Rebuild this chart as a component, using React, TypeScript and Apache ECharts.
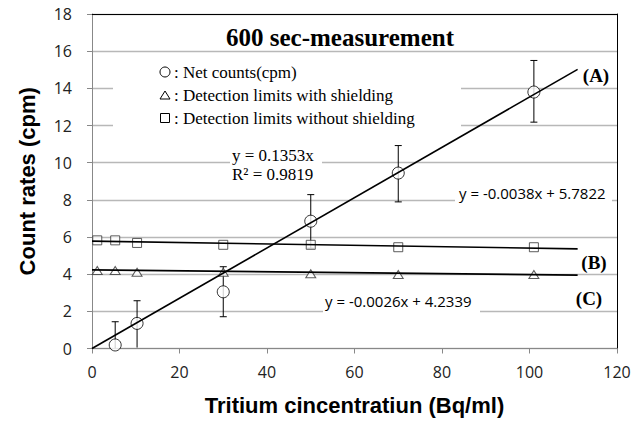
import React, { useEffect, useRef } from "react";
import * as echarts from "echarts";

// Net counts (cpm) with error bars
const netX = [5.3, 10.3, 30, 50, 70, 101];
const netY = [0.19, 1.35, 3.05, 6.85, 9.44, 13.8];
const netLow = [-1.06, 0.05, 1.71, 5.4, 7.89, 12.18];
const netHigh = [1.44, 2.57, 4.4, 8.28, 10.92, 15.5];

// Detection limits
const limitX = [1.2, 5.3, 10.3, 30, 50, 70, 101];
const withoutShielding = [5.82, 5.82, 5.68, 5.58, 5.58, 5.45, 5.45];
const withShielding = [4.2, 4.2, 4.1, 4.1, 4.02, 3.98, 3.98];

// Trend lines (end points)
const trendX = [0, 111];
const trendA = [0, 15.02];
const trendB = [5.78, 5.36];
const trendC = [4.23, 3.95];

const title = "600 sec-measurement";
const legendItems = [
  ": Net counts(cpm)",
  ": Detection limits with shielding",
  ": Detection limits without shielding",
];
const eqA = ["y = 0.1353x", "R\u00b2 = 0.9819"];
const eqB = "y = -0.0038x + 5.7822";
const eqC = "y = -0.0026x + 4.2339";
const xName = "Tritium cincentratiun (Bq/ml)";
const yName = "Count rates (cpm)";

const SERIF = "'Liberation Serif', 'Times New Roman', serif";
const SANS = "'Open Sans', 'Liberation Sans', sans-serif";
const ARIAL = "'Liberation Sans', Arial, sans-serif";

export default function App() {
  const ref = useRef<HTMLDivElement>(null);
  useEffect(() => {
    if (!ref.current) return;
    const chart = echarts.init(ref.current, null, { renderer: "svg" });
    const pair = (xs: number[], ys: number[]) => xs.map((x, i) => [x, ys[i]]);

    const option: any = {
      animation: false,
      backgroundColor: "#fff",
      grid: { left: 92, right: 26, top: 14, bottom: 74.5, containLabel: false },
      xAxis: [
        {
          type: "value",
          min: 0,
          max: 120,
          interval: 20,
          name: xName,
          nameLocation: "middle",
          nameGap: 46,
          nameTextStyle: { fontFamily: ARIAL, fontWeight: "bold", fontSize: 22, color: "#000" },
          axisLine: { show: true, lineStyle: { color: "#888", width: 1 } },
          axisTick: { show: true, inside: false, length: 5, lineStyle: { color: "#888" } },
          axisLabel: { fontFamily: SANS, fontSize: 16, color: "#222", margin: 15 },
          splitLine: { show: false },
        },
        {
          type: "value",
          position: "top",
          min: 0,
          max: 120,
          axisLine: { show: true, onZero: false, lineStyle: { color: "#000", width: 1 } },
          axisTick: { show: false },
          axisLabel: { show: false },
          splitLine: { show: false },
        },
      ],
      yAxis: [
        {
          type: "value",
          min: 0,
          max: 18,
          interval: 2,
          name: yName,
          nameLocation: "middle",
          nameGap: 54,
          nameTextStyle: { fontFamily: ARIAL, fontWeight: "bold", fontSize: 22, color: "#000" },
          axisLine: { show: true, lineStyle: { color: "#888", width: 1 } },
          axisTick: { show: true, inside: false, length: 5, lineStyle: { color: "#888" } },
          axisLabel: { fontFamily: SANS, fontSize: 16, color: "#222", margin: 20 },
          splitLine: { show: true, lineStyle: { color: "#b8b8b8", width: 1.3 } },
        },
        {
          type: "value",
          position: "right",
          min: 0,
          max: 18,
          axisLine: { show: true, onZero: false, lineStyle: { color: "#000", width: 1 } },
          axisTick: { show: false },
          axisLabel: { show: false },
          splitLine: { show: false },
        },
      ],
      series: [
        {
          type: "custom",
          name: "errors",
          z: 3,
          clip: true,
          data: netX.map((x, i) => [x, netLow[i], netHigh[i]]),
          renderItem: (params: any, api: any) => {
            const x = api.value(0);
            const lo = api.coord([x, api.value(1)]);
            const hi = api.coord([x, api.value(2)]);
            const cs = params.coordSys;
            const bottom = cs.y + cs.height;
            const loY = Math.min(lo[1], bottom);
            const cap = 3.5;
            const children: any[] = [
              { type: "line", shape: { x1: hi[0], y1: hi[1], x2: lo[0], y2: loY }, style: { stroke: "#000", lineWidth: 1 } },
              { type: "line", shape: { x1: hi[0] - cap, y1: hi[1], x2: hi[0] + cap, y2: hi[1] }, style: { stroke: "#000", lineWidth: 1 } },
            ];
            if (lo[1] < bottom - 1) {
              children.push({ type: "line", shape: { x1: lo[0] - cap, y1: lo[1], x2: lo[0] + cap, y2: lo[1] }, style: { stroke: "#000", lineWidth: 1 } });
            }
            return { type: "group", children };
          },
        },
        {
          type: "scatter",
          name: "without shielding",
          data: pair(limitX, withoutShielding),
          symbol: "rect",
          symbolSize: [9, 9],
          z: 4,
          itemStyle: { color: "#fff", borderColor: "#333", borderWidth: 1 },
        },
        {
          type: "scatter",
          name: "with shielding",
          data: pair(limitX, withShielding),
          symbol: "triangle",
          symbolSize: [10, 8],
          z: 4,
          itemStyle: { color: "#fff", borderColor: "#333", borderWidth: 1 },
        },
        {
          type: "scatter",
          name: "net counts",
          data: pair(netX, netY),
          symbol: "circle",
          symbolSize: 12,
          z: 5,
          itemStyle: { color: "#fff", borderColor: "#000", borderWidth: 1 },
        },
        {
          type: "line",
          name: "A",
          data: pair(trendX, trendA),
          symbol: "none",
          z: 6,
          lineStyle: { color: "#000", width: 1.6 },
        },
        {
          type: "line",
          name: "B",
          data: pair(trendX, trendB),
          symbol: "none",
          z: 6,
          lineStyle: { color: "#000", width: 1.6 },
        },
        {
          type: "line",
          name: "C",
          data: pair(trendX, trendC),
          symbol: "none",
          z: 6,
          lineStyle: { color: "#000", width: 1.6 },
        },
      ],
      graphic: [
        // white boxes behind legend & equation labels
        { type: "rect", z: 1, shape: { x: 113, y: 58, width: 348, height: 80 }, style: { fill: "#fff" } },
        { type: "rect", z: 1, shape: { x: 230, y: 146, width: 92, height: 37 }, style: { fill: "#fff" } },
        { type: "rect", z: 1, shape: { x: 455, y: 184, width: 157, height: 20 }, style: { fill: "#fff" } },
        { type: "rect", z: 1, shape: { x: 323, y: 292, width: 157, height: 21 }, style: { fill: "#fff" } },
        {
          type: "text", z: 10, x: 340, y: 37,
          style: { text: title, fontFamily: SERIF, fontWeight: "bold", fontSize: 25, fill: "#000", align: "center", verticalAlign: "middle" },
        },
        // legend symbols
        { type: "circle", z: 10, shape: { cx: 165, cy: 72, r: 5 }, style: { fill: "#fff", stroke: "#000", lineWidth: 1 } },
        { type: "polygon", z: 10, shape: { points: [[165, 91], [170, 99], [160, 99]] }, style: { fill: "#fff", stroke: "#000", lineWidth: 1 } },
        { type: "rect", z: 10, shape: { x: 160.5, y: 113.5, width: 9, height: 9 }, style: { fill: "#fff", stroke: "#000", lineWidth: 1 } },
        ...legendItems.map((t, i) => ({
          type: "text", z: 10, x: 174, y: [72, 95, 118][i],
          style: { text: t, fontFamily: SERIF, fontSize: 17, fill: "#000", align: "left", verticalAlign: "middle" },
        })),
        {
          type: "text", z: 10, x: 232, y: 155,
          style: { text: eqA[0], fontFamily: SERIF, fontSize: 17, fill: "#000", align: "left", verticalAlign: "middle" },
        },
        {
          type: "text", z: 10, x: 232, y: 174,
          style: { text: eqA[1], fontFamily: SERIF, fontSize: 17, fill: "#000", align: "left", verticalAlign: "middle" },
        },
        {
          type: "text", z: 10, x: 459, y: 193,
          style: { text: eqB, fontFamily: SANS, fontSize: 15, fill: "#000", align: "left", verticalAlign: "middle" },
        },
        {
          type: "text", z: 10, x: 325, y: 301,
          style: { text: eqC, fontFamily: SANS, fontSize: 15, fill: "#000", align: "left", verticalAlign: "middle" },
        },
        {
          type: "text", z: 10, x: 596, y: 75,
          style: { text: "(A)", fontFamily: SERIF, fontWeight: "bold", fontSize: 19, fill: "#000", align: "center", verticalAlign: "middle" },
        },
        {
          type: "text", z: 10, x: 594, y: 262,
          style: { text: "(B)", fontFamily: SERIF, fontWeight: "bold", fontSize: 19, fill: "#000", align: "center", verticalAlign: "middle" },
        },
        {
          type: "text", z: 10, x: 589, y: 298,
          style: { text: "(C)", fontFamily: SERIF, fontWeight: "bold", fontSize: 19, fill: "#000", align: "center", verticalAlign: "middle" },
        },
      ],
    };
    chart.setOption(option);
    return () => chart.dispose();
  }, []);
  return <div ref={ref} style={{ width: 643, height: 423, position: "fixed", left: 0, top: 0 }} />;
}
